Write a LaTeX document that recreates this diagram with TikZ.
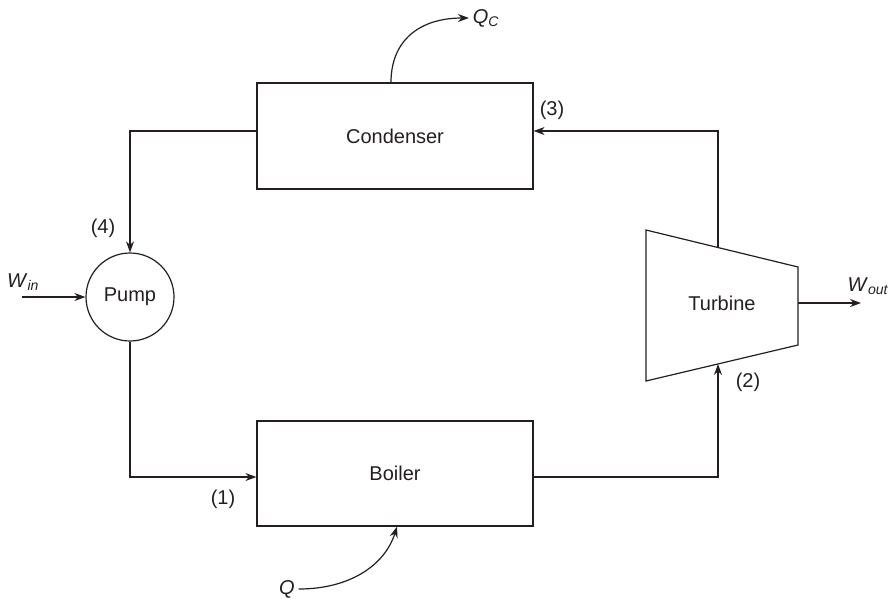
\documentclass[tikz,border=0pt]{standalone}
\usepackage{fontspec}
\setmainfont{Liberation Sans}
\usetikzlibrary{arrows.meta}
\definecolor{ink}{RGB}{35,31,32}
\begin{document}
\begin{tikzpicture}[x=1pt,y=-1pt, line width=1.2pt, draw=ink, text=ink,
  font=\fontsize{20}{24}\selectfont,
  arr/.style={-{Stealth[length=11pt,width=8pt]}},
  box/.style={draw, minimum width=276pt, minimum height=106pt, inner sep=0pt},
  lbl/.style={inner sep=0pt}]
\useasboundingbox (0,0) rectangle (890,598);
% units
\node[box] (cond) at (395,136) {Condenser};
\node[box, minimum height=105pt] (boil) at (395,473.5) {Boiler};
\node[draw, circle, minimum size=88pt, inner sep=0pt] (pump) at (130,297) {Pump};
\coordinate (t1) at (646,230);
\coordinate (t2) at (798,267);
\coordinate (t3) at (798,345);
\coordinate (t4) at (646,381);
\draw (t1) -- (t2) -- (t3) -- (t4) -- cycle;
\node (turb) at (722,303) {Turbine};
\coordinate (tin) at (718,364);
\coordinate (tout) at (718,247.5);
\coordinate (wout) at (798,303);
% cycle connectors
\draw[arr] (tout) |- ([yshift=5pt]cond.east);
\draw[arr] ([yshift=5pt]cond.west) -| (pump.north);
\draw[arr] (pump.south) |- ([yshift=-3.5pt]boil.west);
\draw[arr] ([yshift=-3.5pt]boil.east) -| (tin);
% work and heat
\node[lbl] (win) at (23,282) {\textit{W}\textsubscript{\textit{in}}};
\coordinate (winS) at (22,297);
\draw[arr] (winS) -- (pump.west);
\coordinate (woutE) at (861,303);
\draw[arr] (wout) -- (woutE);
\node[lbl] (woutl) at (868,286) {\textit{W}\textsubscript{\textit{out}}};
\node (qc) at (486,18) {\textit{Q}\textsubscript{\textit{C}}};
\draw[arr] ([xshift=-4pt]cond.north) .. controls (391,40) and (420,18) .. (qc.west);
\node (q) at (287,589) {\textit{Q}};
\draw[arr] (q.east) .. controls (350,589) and (385,565) .. ([xshift=2pt]boil.south);
% state labels
\node[lbl] (s1) at (223,499) {(1)};
\node[lbl] (s2) at (748,382) {(2)};
\node[lbl] (s3) at (552,110) {(3)};
\node[lbl] (s4) at (103,228) {(4)};
\end{tikzpicture}
\end{document}
